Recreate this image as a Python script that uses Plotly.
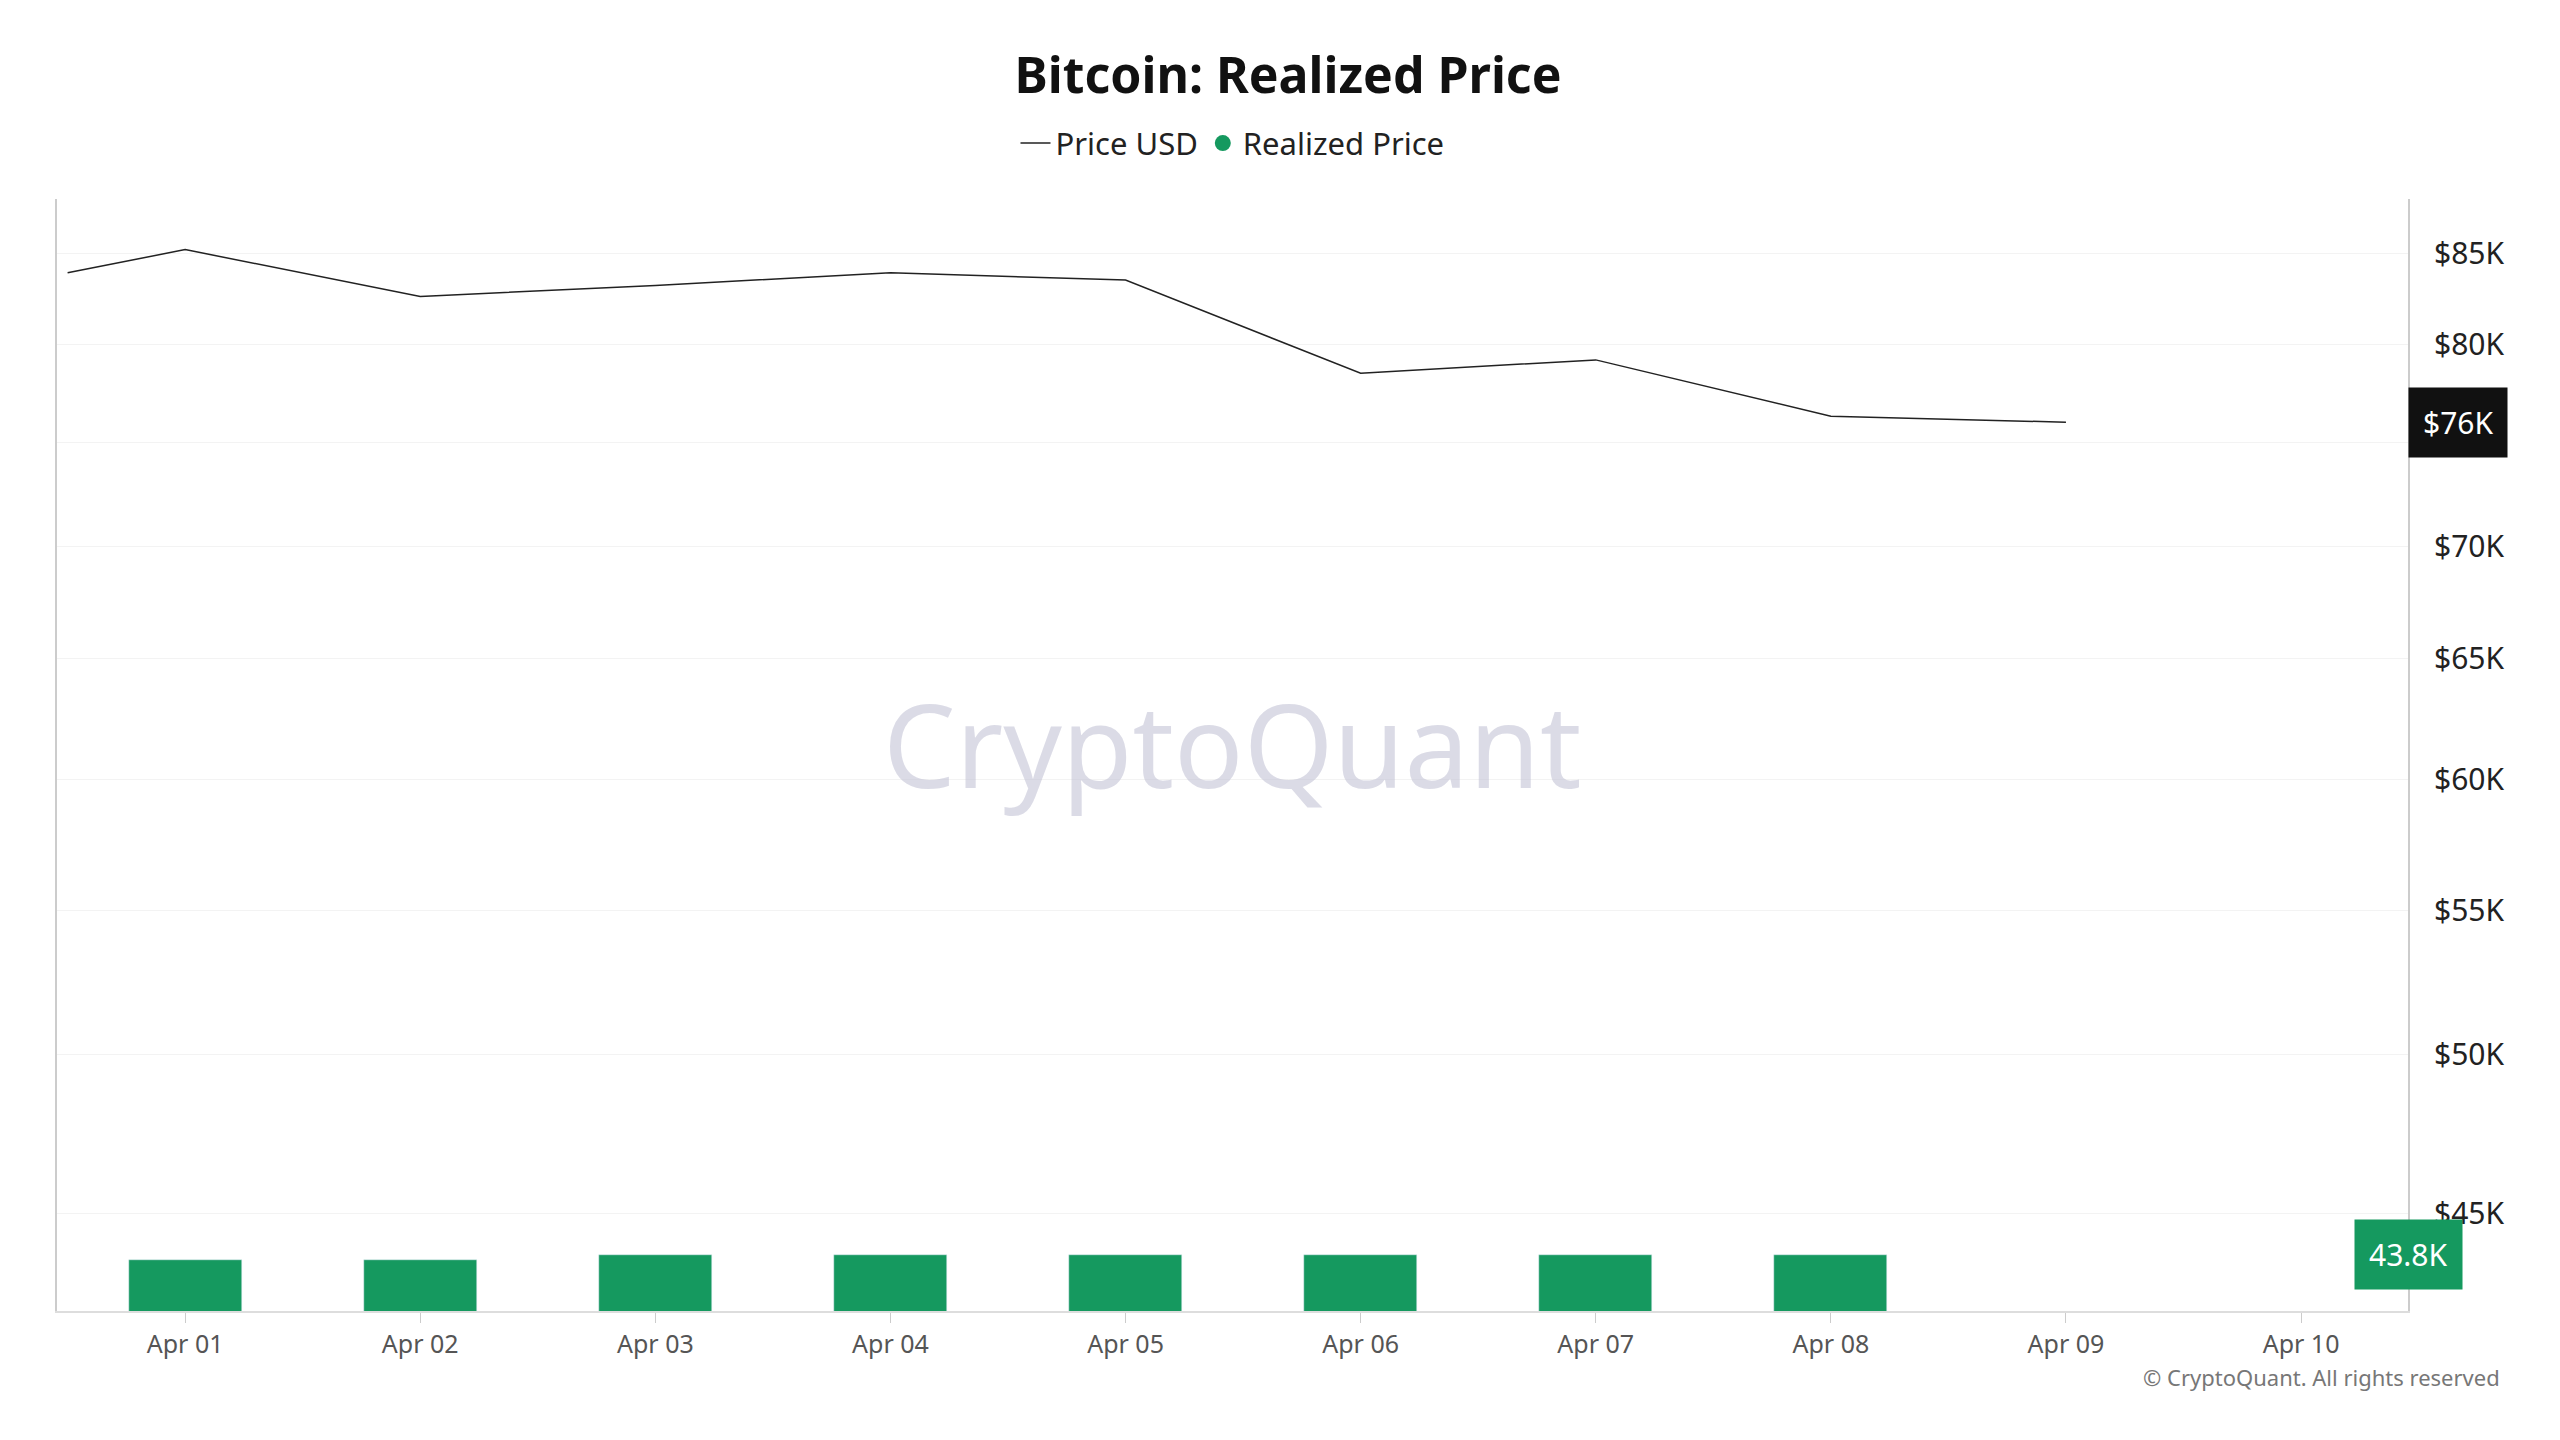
import plotly.graph_objects as go
import numpy as np

price_dates = ["2025-03-31 12:00", "2025-04-01", "2025-04-02", "2025-04-03", "2025-04-04",
               "2025-04-05", "2025-04-06", "2025-04-07", "2025-04-08", "2025-04-09"]
price_usd = [83900, 85200, 82600, 83200, 83900, 83500, 78500, 79200, 76300, 76000]

rp_dates = ["2025-04-01", "2025-04-02", "2025-04-03", "2025-04-04",
            "2025-04-05", "2025-04-06", "2025-04-07", "2025-04-08"]
realized_price = [43650, 43650, 43800, 43800, 43800, 43800, 43800, 43800]

tick_vals = [45000, 50000, 55000, 60000, 65000, 70000, 75000, 80000, 85000]
tick_text = ["$45K", "$50K", "$55K", "$60K", "$65K", "$70K", "$75K", "$80K", "$85K"]

green = "#15995f"
font = "Noto Sans"

fig = go.Figure()
fig.add_trace(go.Scatter(x=price_dates, y=price_usd, mode="lines", name="Price USD",
                         line=dict(color="#222222", width=1.5)))
fig.add_trace(go.Bar(x=rp_dates, y=realized_price, name="Realized Price", showlegend=False,
                     marker=dict(color=green), width=0.48 * 86400000))
# legend entry with round marker
fig.add_trace(go.Scatter(x=[None], y=[None], mode="markers", name="Realized Price",
                         marker=dict(color=green, size=30, symbol="circle")))

fig.update_layout(
    width=2560, height=1440,
    paper_bgcolor="white", plot_bgcolor="white",
    margin=dict(l=49, r=160, t=191, b=137),
    font=dict(family=font, color="#222"),
    title=dict(text="<b>Bitcoin: Realized Price</b>", x=0.5, y=0.965, xanchor="center",
               font=dict(size=50, color="#111")),
    legend=dict(orientation="h", x=0.5, xanchor="center", y=1.05, yanchor="middle",
                font=dict(size=31, color="#222"), itemsizing="trace"),
    showlegend=True,
    bargap=0,
)
fig.update_xaxes(
    type="date", range=["2025-03-31 10:55", "2025-04-10 10:55"],
    tickformat="%b %d", dtick=86400000, tick0="2025-04-01",
    tickfont=dict(size=25, color="#555"), ticks="outside", ticklen=10, tickcolor="#ccc",
    showgrid=False, showline=True, linecolor="#ddd", linewidth=2,
)
fig.update_yaxes(
    type="log", range=[np.log10(42200), np.log10(88100)], side="right",
    tickvals=tick_vals, ticktext=tick_text, tickfont=dict(size=30, color="#222"),
    showgrid=True, gridcolor="#f3f3f3", showline=True, mirror=True,
    linecolor="#ccc", linewidth=2, zeroline=False, ticklabelstandoff=18,
)
fig.add_annotation(x=1, xref="paper", xanchor="left", y=np.log10(price_usd[-1]), yref="y",
                   text="$76K", showarrow=False, bgcolor="#111", borderpad=14,
                   font=dict(size=30, color="white"))
fig.add_annotation(x=1, xref="paper", xanchor="center", y=np.log10(43800), yref="y",
                   text="43.8K", showarrow=False, bgcolor=green, borderpad=14,
                   font=dict(size=30, color="white"))
fig.add_annotation(x=0.5, xref="paper", y=0.51, yref="paper", text="CryptoQuant",
                   showarrow=False, font=dict(size=115, color="rgba(190,190,210,0.55)"))
fig.add_annotation(x=1.04, xref="paper", xanchor="right", y=-0.075, yref="paper",
                   text="© CryptoQuant. All rights reserved", showarrow=False,
                   font=dict(size=22, color="#777"))

fig.write_html("out.html")
